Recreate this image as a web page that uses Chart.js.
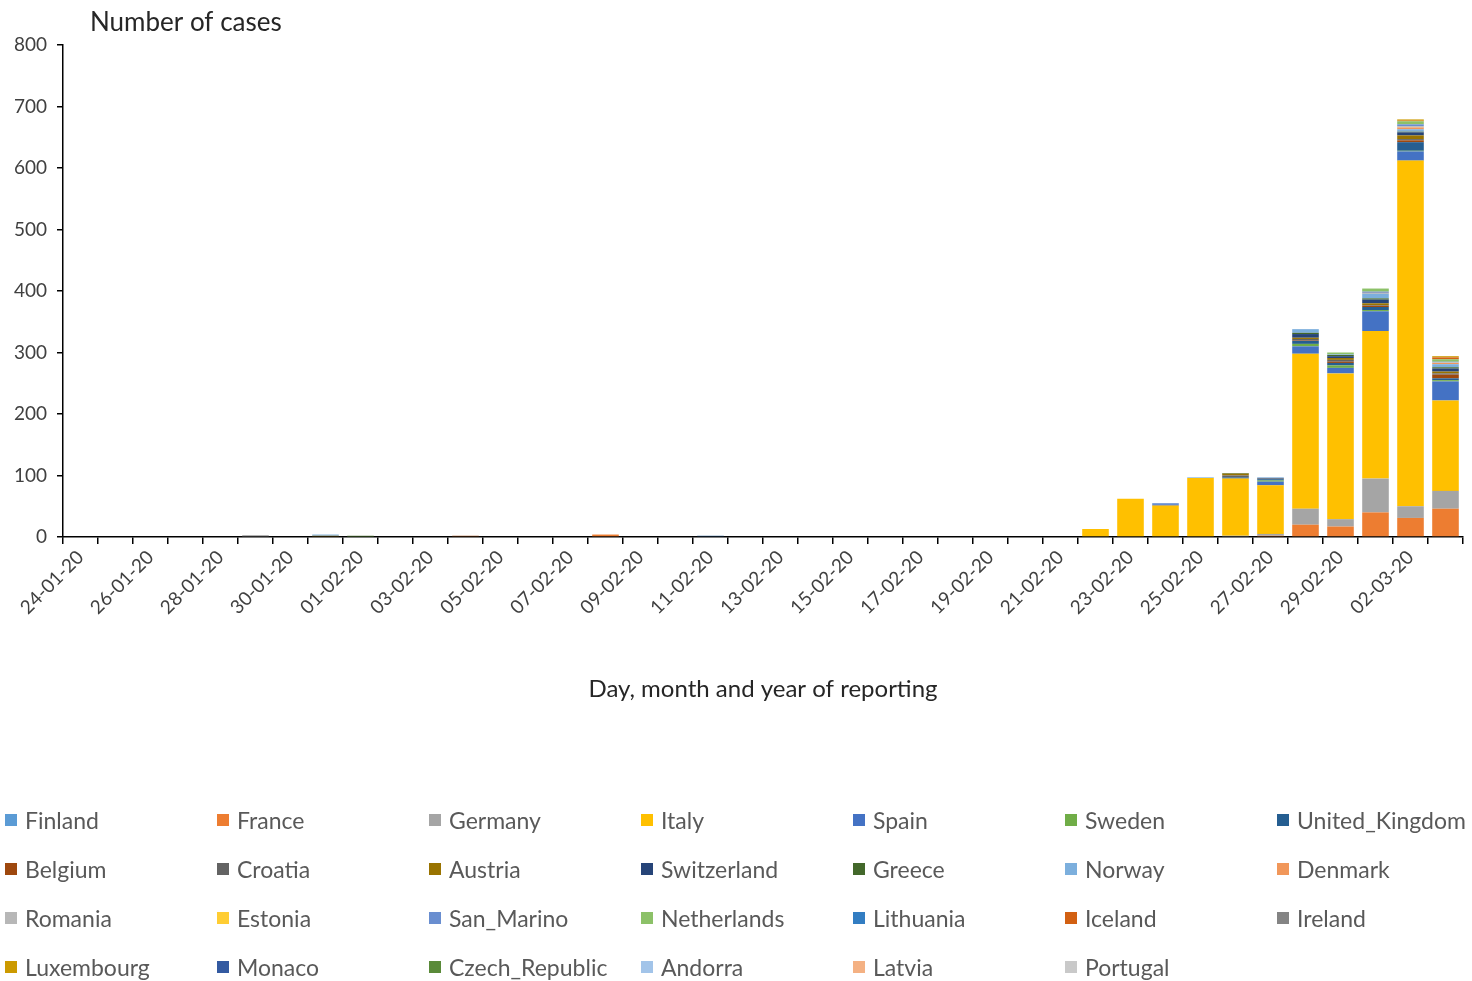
<!DOCTYPE html>
<html><head><meta charset="utf-8">
<script src="https://cdn.jsdelivr.net/npm/chart.js@4.4.0/dist/chart.umd.min.js"></script>
<style>
html,body{margin:0;padding:0;background:#fff;width:1472px;height:981px;overflow:hidden;font-family:Lato, sans-serif}
#wrap{position:absolute;left:0;top:0;width:1472px;height:740px}
#legend{position:absolute;left:0;top:0;width:1472px;height:981px;pointer-events:none}
.li{position:absolute;height:28px;line-height:28px;display:flex;align-items:center;font-size:23px;color:#595959;white-space:nowrap}
.li .b{width:12px;height:12px;margin-right:8px;display:inline-block;flex:none}
</style></head>
<body>
<div id="wrap"><canvas id="c"></canvas></div>
<div id="legend"></div>
<script>
const dates = ["24-01-20","25-01-20","26-01-20","27-01-20","28-01-20","29-01-20","30-01-20","31-01-20",
"01-02-20","02-02-20","03-02-20","04-02-20","05-02-20","06-02-20","07-02-20","08-02-20","09-02-20","10-02-20",
"11-02-20","12-02-20","13-02-20","14-02-20","15-02-20","16-02-20","17-02-20","18-02-20","19-02-20","20-02-20",
"21-02-20","22-02-20","23-02-20","24-02-20","25-02-20","26-02-20","27-02-20","28-02-20","29-02-20",
"01-03-20","02-03-20","03-03-20"];

const countries = ["Finland","France","Germany","Italy","Spain","Sweden","United_Kingdom","Belgium","Croatia","Austria",
"Switzerland","Greece","Norway","Denmark","Romania","Estonia","San_Marino","Netherlands","Lithuania","Iceland",
"Ireland","Luxembourg","Monaco","Czech_Republic","Andorra","Latvia","Portugal"];

const colors = ["#5B9BD5","#ED7D31","#A5A5A5","#FFC000","#4472C4","#70AD47","#255E91","#9E480E","#636363","#997300",
"#264478","#43682B","#7CAFDD","#F1975A","#B7B7B7","#FFCD33","#698ED0","#8CC168","#327DC2","#D26012",
"#848484","#CC9A00","#335AA1","#5A8A39","#A2C4E9","#F4B183","#C9C9C9"];

const yTicks = [0,100,200,300,400,500,600,700,800];

//                  24-01 ........................................................ 21-02 | 22-02 .. 03-03
const Finland      = [0,0,0,0,0,0,0,0,0,0,0,0,0,0,0,0,0,0,0,0,0,0,0,0,0,0,0,0,0, 0,0,0,0,0,0,0,0,0,0,0];
const France       = [0,0,0,0,0,0,0,0,0,0,0,0,0,0,0,4,0,0,0,0,0,0,0,0,0,0,0,0,0, 0,0,0,0,0,2,20,17,40,31,46];
const Germany      = [0,0,0,0,0,3,0,0,0,0,0,0,0,0,0,0,0,0,0,0,0,0,0,0,0,0,0,0,0, 0,0,0,0,2,3,26,12,55,19,29];
const Italy        = [0,0,0,0,0,0,0,0,0,0,0,0,0,0,0,0,0,0,0,0,0,0,0,0,0,0,0,0,0, 13,62,51,96,93,79,252,237,240,562,147];
const Spain        = [0,0,0,0,0,0,0,0,0,0,0,0,0,0,0,0,0,0,0,0,0,0,0,0,0,0,0,0,0, 0,0,0,0,0,6,12,9,32,15,31];
const Sweden       = [0,0,0,0,0,0,0,0,1,0,0,0,0,0,0,0,0,0,0,0,0,0,0,0,0,0,0,0,0, 0,0,0,0,0,2,4,4,2,1,2];
const UnitedKingdom= [0,0,0,0,0,0,0,0,0,0,0,0,0,0,0,0,0,0,2,0,0,0,0,0,0,0,0,0,0, 0,0,0,0,2,2,5,4,5,14,3];
const Belgium      = [0,0,0,0,0,0,0,0,0,0,0,2,0,0,0,0,0,0,0,0,0,0,0,0,0,0,0,0,0, 0,0,0,0,0,0,1,2,2,3,6];
const Croatia      = [0,0,0,0,0,0,0,0,0,0,0,0,0,0,0,0,0,0,0,0,0,0,0,0,0,0,0,0,0, 0,0,1,0,3,1,2,3,1,2,2];
const Austria      = [0,0,0,0,0,0,0,2,0,0,0,0,0,0,0,0,0,0,0,0,0,0,0,0,0,0,0,0,0, 0,0,0,0,3,0,2,3,3,6,3];
const Switzerland  = [0,0,0,0,0,0,0,0,0,0,0,0,0,0,0,0,0,0,0,0,0,0,0,0,0,0,0,0,0, 0,0,0,0,0,1,6,3,6,5,5];
const Greece       = [0,0,0,0,0,0,0,0,1,0,0,0,0,0,0,0,0,0,0,0,0,0,0,0,0,0,0,0,0, 0,0,0,0,1,0,2,2,2,1,2];
const Norway       = [0,0,0,0,0,0,0,2,0,0,0,0,0,0,0,0,0,0,0,0,0,0,0,0,0,0,0,0,0, 0,0,0,1,0,1,6,1,8,4,5];
const Denmark      = [0,0,0,0,0,0,0,0,0,0,0,0,0,0,0,0,0,0,0,0,0,0,0,0,0,0,0,0,0, 0,0,0,0,0,0,0,0,1,3,2];
const Romania      = [0,0,0,0,0,0,0,0,0,0,0,0,0,0,0,0,0,0,0,0,0,0,0,0,0,0,0,0,0, 0,0,0,0,0,0,0,0,0,2,1];
const Estonia      = [0,0,0,0,0,0,0,0,0,0,0,0,0,0,0,0,0,0,0,0,0,0,0,0,0,0,0,0,0, 0,0,0,0,0,0,0,0,0,0,0];
const SanMarino    = [0,0,0,0,0,0,0,0,0,0,0,0,0,0,0,0,0,0,0,0,0,0,0,0,0,0,0,0,0, 0,0,3,0,0,0,0,0,2,3,1];
const Netherlands  = [0,0,0,0,0,0,0,0,0,0,0,0,0,0,0,0,0,0,0,0,0,0,0,0,0,0,0,0,0, 0,0,0,0,0,0,0,3,5,5,4];
const Lithuania    = [0,0,0,0,0,0,0,0,0,0,0,0,0,0,0,0,0,0,0,0,0,0,0,0,0,0,0,0,0, 0,0,0,0,0,0,0,0,0,0,0];
const Iceland      = [0,0,0,0,0,0,0,0,0,0,0,0,0,0,0,0,0,0,0,0,0,0,0,0,0,0,0,0,0, 0,0,0,0,0,0,0,0,0,1,3];
const Ireland      = [0,0,0,0,0,0,0,0,0,0,0,0,0,0,0,0,0,0,0,0,0,0,0,0,0,0,0,0,0, 0,0,0,0,0,0,0,0,0,0,0];
const Luxembourg   = [0,0,0,0,0,0,0,0,0,0,0,0,0,0,0,0,0,0,0,0,0,0,0,0,0,0,0,0,0, 0,0,0,0,0,0,0,0,0,2,2];
const Monaco       = [0,0,0,0,0,0,0,0,0,0,0,0,0,0,0,0,0,0,0,0,0,0,0,0,0,0,0,0,0, 0,0,0,0,0,0,0,0,0,0,0];
const CzechRepublic= [0,0,0,0,0,0,0,0,0,0,0,0,0,0,0,0,0,0,0,0,0,0,0,0,0,0,0,0,0, 0,0,0,0,0,0,0,0,0,0,0];
const Andorra      = [0,0,0,0,0,0,0,0,0,0,0,0,0,0,0,0,0,0,0,0,0,0,0,0,0,0,0,0,0, 0,0,0,0,0,0,0,0,0,0,0];
const Latvia       = [0,0,0,0,0,0,0,0,0,0,0,0,0,0,0,0,0,0,0,0,0,0,0,0,0,0,0,0,0, 0,0,0,0,0,0,0,0,0,0,0];
const Portugal     = [0,0,0,0,0,0,0,0,0,0,0,0,0,0,0,0,0,0,0,0,0,0,0,0,0,0,0,0,0, 0,0,0,0,0,0,0,0,0,0,0];

const seriesValues = [Finland,France,Germany,Italy,Spain,Sweden,UnitedKingdom,Belgium,Croatia,Austria,
Switzerland,Greece,Norway,Denmark,Romania,Estonia,SanMarino,Netherlands,Lithuania,Iceland,
Ireland,Luxembourg,Monaco,CzechRepublic,Andorra,Latvia,Portugal];

Chart.defaults.font.family = "Lato, 'Open Sans', sans-serif";
Chart.defaults.animation = false;

const titlePlugin = {
  id: 'topTitle',
  afterDraw(chart) {
    const ctx = chart.ctx;
    ctx.save();
    ctx.font = "26px Lato, sans-serif";
    ctx.fillStyle = "#262626";
    ctx.textBaseline = "middle";
    ctx.textAlign = "left";
    ctx.fillText("Number of cases", chart.chartArea.left + 27, 23);
    ctx.restore();
  }
};

new Chart(document.getElementById('c'), {
  type: 'bar',
  data: {
    labels: dates,
    datasets: countries.map((n, i) => ({
      label: n,
      data: seriesValues[i],
      backgroundColor: colors[i],
      borderWidth: 0,
      categoryPercentage: 1,
      barPercentage: 0.76
    }))
  },
  options: {
    responsive: true,
    maintainAspectRatio: false,
    devicePixelRatio: 1,
    layout: { padding: { top: 45, right: 9, left: 0, bottom: 0 } },
    plugins: { legend: { display: false }, tooltip: { enabled: false } },
    scales: {
      x: {
        stacked: true,
        grid: { display: true, offset: true, drawOnChartArea: false, drawTicks: true, tickLength: 7, color: '#000', lineWidth: 1.5 },
        border: { display: true, color: '#000', width: 1.5 },
        ticks: {
          autoSkip: false, maxRotation: 45, minRotation: 45,
          callback: (v, i) => (i % 2 === 0 ? dates[i] : ''),
          font: { size: 19 }, color: '#404040', padding: 2
        },
        title: { display: true, text: 'Day, month and year of reporting', font: { size: 24 }, color: '#262626', padding: { top: 36, bottom: 36 } },
        afterFit: s => { s.height = 203; }
      },
      y: {
        stacked: true, min: 0, max: 800,
        afterBuildTicks: s => { s.ticks = yTicks.map(v => ({ value: v })); },
        ticks: { font: { size: 19 }, color: '#404040', padding: 10 },
        grid: { display: true, drawOnChartArea: false, drawTicks: true, tickLength: 6, color: '#000', lineWidth: 1.5 },
        border: { display: true, color: '#000', width: 1.5 },
        afterFit: s => { s.width = 63; }
      }
    }
  },
  plugins: [titlePlugin]
});

const leg = document.getElementById('legend');
countries.forEach((n, i) => {
  const col = i % 7, row = Math.floor(i / 7);
  const d = document.createElement('div');
  d.className = 'li';
  d.style.left = (5 + 212 * col) + 'px';
  d.style.top = (820 + 49 * row - 14) + 'px';
  d.innerHTML = '<span class="b" style="background:' + colors[i] + '"></span>' + n;
  leg.appendChild(d);
});
</script>
</body></html>
